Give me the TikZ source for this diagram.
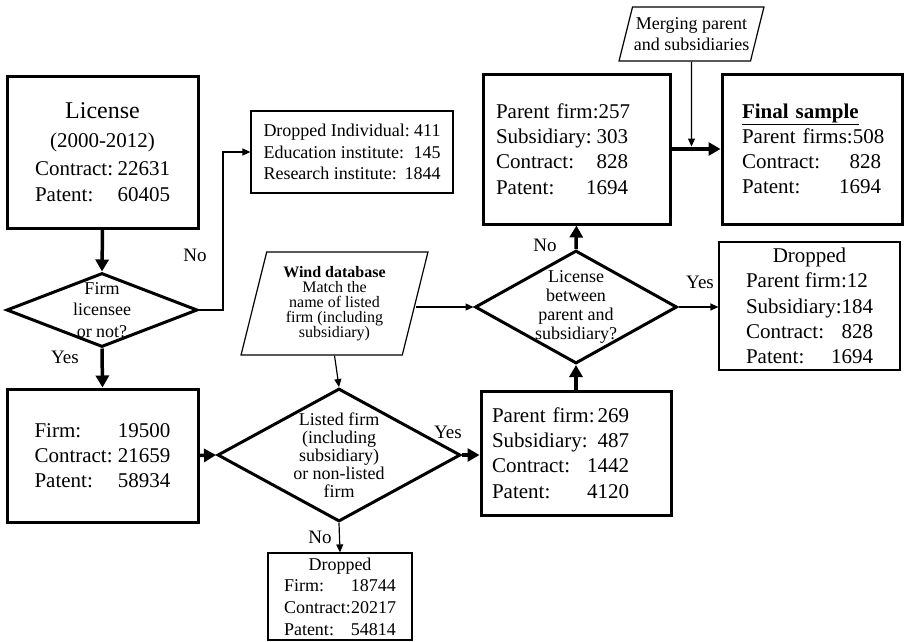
\documentclass[tikz,border=0pt]{standalone}
\usepackage{fontspec}
\setmainfont{Liberation Serif}
\usepackage{tikz}
\usetikzlibrary{shapes.geometric,arrows.meta}

\newcommand{\bigfont}{\fontsize{21}{25.2}\selectfont}
\newcommand{\hugefont}{\fontsize{24}{29}\selectfont}
\newcommand{\smallfont}{\fontsize{18}{21.6}\selectfont}
\newcommand{\tightfont}{\fontsize{16}{15}\selectfont\lineskiplimit=-20pt}
\newcommand{\vals}[3]{\makebox[#1][s]{#2\hfill#3}}

\begin{document}
\begin{tikzpicture}[x=1pt,y=-1pt]
  \tikzstyle{bigbox}=[rectangle, draw, line width=3pt, inner sep=0pt, font=\bigfont, align=center]
  \tikzstyle{dropbox}=[rectangle, draw, line width=1.2pt, inner sep=0pt, font=\smallfont, align=center]
  \tikzstyle{decision}=[diamond, draw, line width=3pt, inner sep=0pt]
  \tikzstyle{dbox}=[trapezium, trapezium left angle=76, trapezium right angle=104, draw, line width=1.2pt, inner sep=0pt, text depth=0pt]
  \tikzstyle{inside}=[inner sep=0pt, align=center, font=\smallfont]
  \tikzstyle{answer}=[inner sep=0pt, font=\fontsize{19}{23}\selectfont]
  \tikzstyle{mainflow}=[line width=3.5pt, -{Triangle[length=12pt,width=13pt]}]
  \tikzstyle{sideflow}=[line width=1.2pt, -{Triangle[length=8pt,width=7pt]}]

  \useasboundingbox (0,0) rectangle (905,641);

  \node[bigbox, minimum width=191pt, minimum height=152pt] (license) at (102.5,152) {\hugefont License\\[4pt](2000-2012)\\[3pt]\bigfont\vals{135pt}{Contract:}{22631}\\\vals{135pt}{Patent:}{60405}};
  \node[decision, minimum width=191pt, minimum height=74pt] (q1) at (102,310) {};
  \node[inside, font=\fontsize{18}{21.5}\selectfont] (q1text) at (q1) {Firm\\licensee\\or not?};
  \node[bigbox, minimum width=191pt, minimum height=133pt] (firm) at (102.5,455.5) {\vals{136pt}{Firm:}{19500}\\\vals{136pt}{Contract:}{21659}\\\vals{136pt}{Patent:}{58934}};
  \node[dropbox, minimum width=202pt, minimum height=82pt] (dropind) at (352,152) {\vals{177pt}{Dropped Individual:}{411}\\\vals{177pt}{Education institute:}{145}\\\vals{177pt}{Research institute:}{1844}};

  \node[dbox, text width=135.6pt, text height=103pt] (wind) at (334.5,303.5) {};
  \node[inside, font=\tightfont] (windtext) at (wind) {\textbf{Wind database}\\Match the\\name of listed\\firm (including\\subsidiary)};
  \node[decision, minimum width=243pt, minimum height=133pt] (q2) at (339,455) {};
  \node[inside, font=\fontsize{18}{18}\selectfont] (q2text) at (q2) {Listed firm\\(including\\subsidiary)\\or non-listed\\firm};
  \node[dropbox, minimum width=144pt, minimum height=87pt] (drop2) at (340,596.5) {Dropped\\\vals{112pt}{Firm:}{18744}\\\vals{112pt}{Contract:}{20217}\\\vals{112pt}{Patent:}{54814}};

  \node[bigbox, minimum height=124pt, text width=168pt, inner xsep=11pt, align=left] (b269) at (576,453) {\vals{137pt}{Parent firm:}{269}\\\vals{137pt}{Subsidiary:}{487}\\\vals{137pt}{Contract:}{1442}\\\vals{137pt}{Patent:}{4120}};
  \node[decision, minimum width=202pt, minimum height=113pt] (q3) at (576,307) {};
  \node[inside, font=\fontsize{18}{19.3}\selectfont] (q3text) at (q3) {License\\between\\parent and\\subsidiary?};
  \node[dropbox, font=\bigfont, minimum width=181pt, minimum height=128pt] (drop3) at (809.5,306) {Dropped\\\makebox[127pt][l]{Parent firm:12}\\\vals{127pt}{Subsidiary:}{184}\\\vals{127pt}{Contract:}{828}\\\vals{127pt}{Patent:}{1694}};
  \node[bigbox, minimum height=150pt, text width=161pt, inner xsep=13pt, align=left] (b257) at (576.5,149) {\vals{132pt}{Parent firm:}{257}\\\vals{132pt}{Subsidiary:}{303}\\\vals{132pt}{Contract:}{828}\\\vals{132pt}{Patent:}{1694}};
  \node[bigbox, minimum height=150pt, text width=140pt, inner xsep=20pt, align=left] (final) at (812,149) {\underline{\textbf{Final sample}}\\\vals{139pt}{Parent firms:}{508}\\\vals{139pt}{Contract:}{828}\\\vals{139pt}{Patent:}{1694}};
  \node[dbox, text width=118pt, text height=54pt] (merge) at (691.5,34) {};
  \node[inside] (mergetext) at (merge) {Merging parent\\and subsidiaries};
  \coordinate (mjoin) at (691.5,146.5);

  \node[answer] (no1) at (195,255) {No};
  \node[answer] (yes1) at (65,357) {Yes};
  \node[answer] (yes2) at (448,432) {Yes};
  \node[answer] (no2) at (320,537) {No};
  \node[answer] (no3) at (545,245) {No};
  \node[answer] (yes3) at (700,282) {Yes};

  \draw[mainflow] (license.south) -- (q1.north);
  \draw[sideflow] (q1.east) -- ++(24,0) |- (dropind.west);
  \draw[mainflow] (q1.south) -- (firm.north);
  \draw[mainflow] (firm.east) -- (q2.west);
  \draw[sideflow] (wind.south) -- (q2.north);
  \draw[sideflow] (wind.east |- q3.west) -- (q3.west);
  \draw[mainflow] (q2.east) -- (q2.east -| b269.west);
  \draw[sideflow] (q2.south) -- (drop2.north);
  \draw[mainflow] (b269.north) -- (q3.south);
  \draw[mainflow] (q3.north) -- (b257.south);
  \draw[sideflow] (q3.east) -- (q3.east -| drop3.west);
  \draw[mainflow] (b257.east) -- (final.west);
  \draw[sideflow] (merge.south) -- (mjoin);
\end{tikzpicture}
\end{document}
